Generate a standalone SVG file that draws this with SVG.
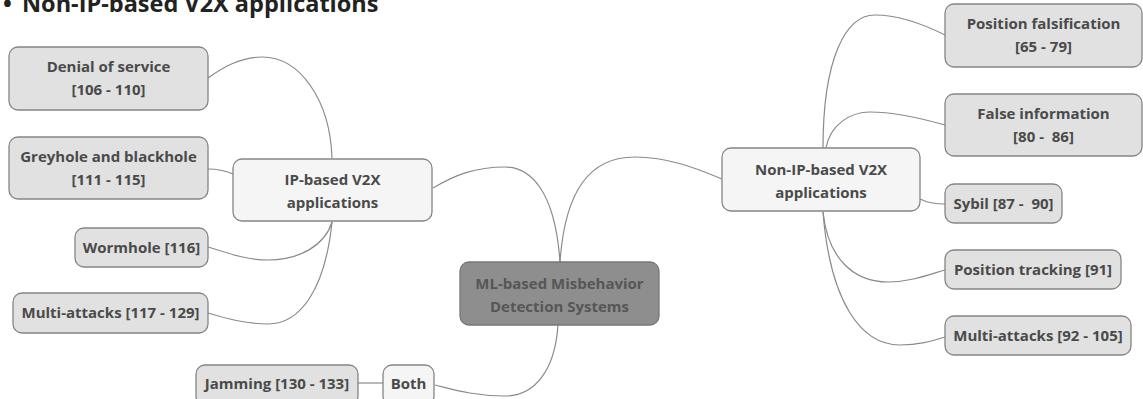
<svg xmlns="http://www.w3.org/2000/svg" width="1143" height="399" viewBox="0 0 1143 399">
  <style>
    .leaf rect { fill: #e1e1e1; stroke: #858585; stroke-width: 1.3; }
    .mid rect { fill: #f5f5f5; stroke: #858585; stroke-width: 1.3; }
    .root rect { fill: #8e8e8e; stroke: #777; stroke-width: 1.3; }
    text { font-family: "Open Sans", "Noto Sans", "DejaVu Sans", sans-serif; font-weight: 700; font-size: 15px; fill: #4a4a4a; text-anchor: middle; }
    .root text { fill: #565656; }
    .title { font-size: 23.5px; text-anchor: start; fill: #222; }
    #connectors path { fill: none; stroke: #8a8a8a; stroke-width: 1.2; }
  </style>

  <text class="title" x="3" y="12">•<tspan x="22">Non-IP-based V2X applications</tspan></text>

  <g id="connectors">
    <!-- root to branches -->
    <path d="M560 262 C555 190 530 167 505 167 C475 167 455 175 433 188"/>
    <path d="M560 262 C565 190 590 157 635 157 C670 157 700 170 722 179"/>
    <path d="M558 325 C555 370 535 396 505 396 C475 396 455 390 435 385"/>
    <path d="M358 383 L383 383"/>
    <!-- IP-based children -->
    <path d="M332 158 C330 100 300 57 262 57 C240 57 222 68 208 78"/>
    <path d="M208 169 C218 169 226 171 233 174"/>
    <path d="M332 222 C325 245 300 260 268 260 C245 260 225 252 208 247"/>
    <path d="M332 222 C325 290 300 324 268 324 C245 324 225 318 208 313"/>
    <!-- Non-IP children -->
    <path d="M823 148 C823 60 845 15 875 15 C900 15 925 25 945 35"/>
    <path d="M826 148 C830 125 850 112 870 112 C895 112 920 118 945 125"/>
    <path d="M920 199 C928 203 936 204 945 204"/>
    <path d="M823 212 C828 260 855 282 888 282 C910 282 928 275 945 270"/>
    <path d="M823 212 C830 300 860 345 900 345 C920 345 932 341 945 337"/>
  </g>

  <g id="root" class="root">
    <rect x="460" y="262" width="199" height="63" rx="9"/>
    <text x="559.5" y="289">ML-based Misbehavior</text>
    <text x="559.5" y="312">Detection Systems</text>
  </g>

  <g id="ip-based" class="mid">
    <rect x="233" y="159" width="199" height="62" rx="9"/>
    <text x="332.5" y="185">IP-based V2X</text>
    <text x="332.5" y="208">applications</text>
  </g>

  <g id="non-ip-based" class="mid">
    <rect x="722" y="148" width="198" height="63" rx="9"/>
    <text x="821" y="175">Non-IP-based V2X</text>
    <text x="821" y="198">applications</text>
  </g>

  <g id="denial-of-service" class="leaf">
    <rect x="9" y="47" width="199" height="63" rx="9"/>
    <text x="108.5" y="72">Denial of service</text>
    <text x="108.5" y="95">[106 - 110]</text>
  </g>

  <g id="greyhole-blackhole" class="leaf">
    <rect x="9" y="137" width="199" height="62" rx="9"/>
    <text x="108.5" y="162">Greyhole and blackhole</text>
    <text x="108.5" y="185">[111 - 115]</text>
  </g>

  <g id="wormhole" class="leaf">
    <rect x="75" y="228" width="133" height="39" rx="9"/>
    <text x="141.5" y="252.5">Wormhole [116]</text>
  </g>

  <g id="multi-attacks-ip" class="leaf">
    <rect x="13" y="293" width="195" height="40" rx="9"/>
    <text x="110.5" y="318">Multi-attacks [117 - 129]</text>
  </g>

  <g id="both" class="mid">
    <rect x="383" y="365" width="51" height="40" rx="9"/>
    <text x="408.5" y="389">Both</text>
  </g>

  <g id="jamming" class="leaf">
    <rect x="196" y="365" width="162" height="40" rx="9"/>
    <text x="277" y="389">Jamming [130 - 133]</text>
  </g>

  <g id="position-falsification" class="leaf">
    <rect x="945" y="4" width="197" height="63" rx="9"/>
    <text x="1043.5" y="29">Position falsification</text>
    <text x="1043.5" y="52">[65 - 79]</text>
  </g>

  <g id="false-information" class="leaf">
    <rect x="945" y="94" width="197" height="62" rx="9"/>
    <text x="1043.5" y="119">False information</text>
    <text x="1043.5" y="142" xml:space="preserve">[80 -  86]</text>
  </g>

  <g id="sybil" class="leaf">
    <rect x="945" y="184" width="117" height="39" rx="9"/>
    <text x="1003.5" y="208.5" xml:space="preserve">Sybil [87 -  90]</text>
  </g>

  <g id="position-tracking" class="leaf">
    <rect x="945" y="250" width="176" height="39" rx="9"/>
    <text x="1033" y="274.5">Position tracking [91]</text>
  </g>

  <g id="multi-attacks-non-ip" class="leaf">
    <rect x="945" y="316" width="186" height="39" rx="9"/>
    <text x="1038" y="340.5">Multi-attacks [92 - 105]</text>
  </g>
</svg>
